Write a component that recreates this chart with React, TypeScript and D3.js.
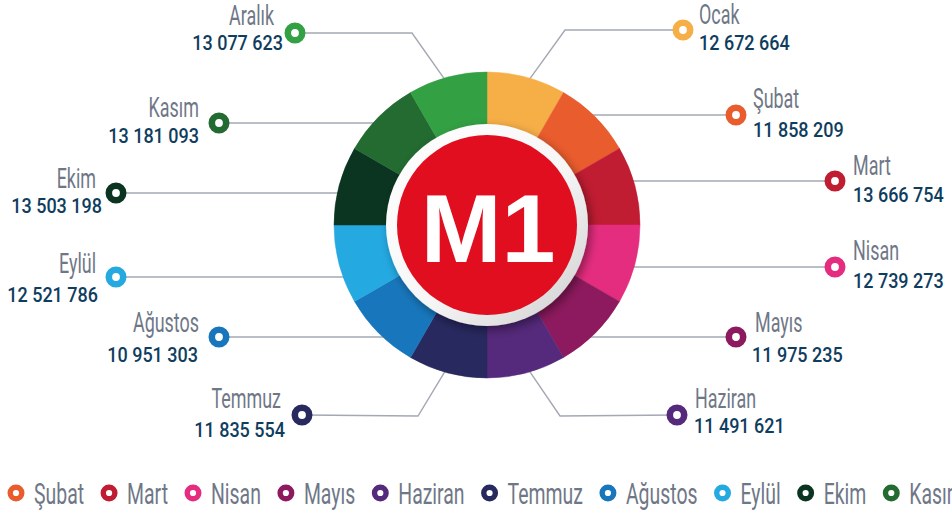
import React, { useEffect, useRef } from "react";
import * as d3 from "d3";

const months = ["Ocak", "Şubat", "Mart", "Nisan", "Mayıs", "Haziran", "Temmuz", "Ağustos", "Eylül", "Ekim", "Kasım", "Aralık"];
const values = [12672664, 11858209, 13666754, 12739273, 11975235, 11491621, 11835554, 10951303, 12521786, 13503198, 13181093, 13077623];
const colors = ["#F6AE47", "#E95C2E", "#C01C32", "#E52D7F", "#8D1A5E", "#55297B", "#28295F", "#1877BC", "#24A9E1", "#0B3520", "#236B31", "#33A044"];
const centerLabel = "M1";

const W = 952;
const H = 517;
const cx = 487;
const cy = 225;
const rOuter = 153;
const rInner = 95;

type Lay = { mx: number; my: number; ex?: number; ey?: number; nx: number; ny: number; vx: number; vy: number; side: "l" | "r" };
// label placement (layout only)
const layout: Lay[] = [
  { mx: 683, my: 30, ex: 565, ey: 30, nx: 699, ny: 24, vx: 699, vy: 50, side: "r" },
  { mx: 736, my: 115, nx: 753, ny: 108, vx: 753, vy: 137, side: "r" },
  { mx: 835, my: 181, nx: 853, ny: 175, vx: 853, vy: 202, side: "r" },
  { mx: 835, my: 267, nx: 853, ny: 260, vx: 853, vy: 288, side: "r" },
  { mx: 736, my: 337, nx: 755, ny: 332, vx: 752, vy: 362, side: "r" },
  { mx: 677, my: 415, ex: 560, ey: 416, nx: 695, ny: 408, vx: 694, vy: 433, side: "r" },
  { mx: 302, my: 415, ex: 418, ey: 416, nx: 281, ny: 408, vx: 285, vy: 437, side: "l" },
  { mx: 219, my: 337, nx: 199, ny: 332, vx: 198, vy: 362, side: "l" },
  { mx: 116, my: 277, nx: 96, ny: 273, vx: 98, vy: 302, side: "l" },
  { mx: 116, my: 193, nx: 96, ny: 188, vx: 102, vy: 213, side: "l" },
  { mx: 219, my: 123, nx: 199, ny: 117, vx: 199, vy: 143, side: "l" },
  { mx: 295, my: 33, ex: 412, ey: 33, nx: 274, ny: 25, vx: 283, vy: 50, side: "l" },
];

const NAME_FONT = "Roboto, 'Liberation Sans', sans-serif";
const NAME_SIZE = 28;
const NAME_SX = 0.64;
const VALUE_SIZE = 20;
const VALUE_SX = 0.9;
const NAME_COLOR = "#6F7787";
const VALUE_COLOR = "#0F3D5E";
const LEG_SIZE = 29;
const LEG_SX = 0.67;

export default function App() {
  const ref = useRef<SVGSVGElement>(null);

  useEffect(() => {
    const svg = d3.select(ref.current as SVGSVGElement);
    svg.selectAll("*").remove();
    const defs = svg.append("defs");
    const f = defs.append("filter").attr("id", "sh").attr("x", "-30%").attr("y", "-30%").attr("width", "160%").attr("height", "160%");
    f.append("feDropShadow").attr("dx", 3).attr("dy", 4).attr("stdDeviation", 5).attr("flood-color", "#000").attr("flood-opacity", 0.4);
    const g1 = defs.append("linearGradient").attr("id", "ring").attr("x1", "0").attr("y1", "0").attr("x2", "1").attr("y2", "1");
    g1.append("stop").attr("offset", "0%").attr("stop-color", "#ffffff");
    g1.append("stop").attr("offset", "55%").attr("stop-color", "#f6f6f6");
    g1.append("stop").attr("offset", "100%").attr("stop-color", "#cdcdcd");

    const data = months.map((m, i) => ({ m, v: values[i], c: colors[i], l: layout[i] }));
    const pie = d3.pie<any>().value(() => 1).sort(null);
    const arcs = pie(data);
    const arc = d3.arc<any>().innerRadius(rInner).outerRadius(rOuter);
    const fmt = (v: number) => d3.format(",")(v).replace(/,/g, " ");

    // leader lines
    const lines = svg.append("g");
    arcs.forEach((a) => {
      const l = a.data.l as Lay;
      const mid = (a.startAngle + a.endAngle) / 2;
      let pts: [number, number][];
      if (l.ex !== undefined && l.ey !== undefined) {
        const r = rOuter - 10;
        pts = [[l.mx, l.my], [l.ex, l.ey], [cx + r * Math.sin(mid), cy - r * Math.cos(mid)]];
      } else {
        pts = [[l.mx, l.my], [cx, l.my]];
      }
      lines.append("path").attr("d", d3.line()(pts) as string).attr("fill", "none").attr("stroke", "#A3A8B3").attr("stroke-width", 1.4);
    });

    // donut
    const dg = svg.append("g").attr("transform", `translate(${cx},${cy})`);
    dg.selectAll("path.seg").data(arcs).join("path").attr("class", "seg")
      .attr("d", arc as any).attr("fill", (d: any) => d.data.c)
      .attr("stroke", (d: any) => d.data.c).attr("stroke-width", 0.5);
    dg.append("circle").attr("r", 101).attr("fill", "url(#ring)").attr("filter", "url(#sh)");
    dg.append("circle").attr("r", 90).attr("fill", "#E10E1F");
    dg.append("text").text(centerLabel).attr("x", 1).attr("y", 37)
      .attr("text-anchor", "middle").attr("font-family", "'Liberation Sans', Arial, sans-serif")
      .attr("font-weight", 700).attr("font-size", 97).attr("fill", "#fff");

    // labels
    const lg = svg.append("g");
    data.forEach((d) => {
      const l = d.l;
      lg.append("circle").attr("cx", l.mx).attr("cy", l.my).attr("r", 7.2)
        .attr("fill", "#fff").attr("stroke", d.c).attr("stroke-width", 6.6);
      const anchor = l.side === "r" ? "start" : "end";
      lg.append("g").attr("transform", `translate(${l.nx},${l.ny}) scale(${NAME_SX},1)`)
        .append("text").text(d.m).attr("text-anchor", anchor)
        .attr("font-family", NAME_FONT).attr("font-size", NAME_SIZE).attr("fill", NAME_COLOR);
      lg.append("g").attr("transform", `translate(${l.vx},${l.vy}) scale(${VALUE_SX},1)`)
        .append("text").text(fmt(d.v)).attr("text-anchor", anchor)
        .attr("font-family", NAME_FONT).attr("font-weight", 500).attr("font-size", VALUE_SIZE).attr("fill", VALUE_COLOR);
    });

    // legend (overflowing row, as in the reference)
    const leg = svg.append("g");
    const items: { x: number; g: any }[] = [];
    let x = 0;
    data.forEach((d) => {
      const ig = leg.append("g");
      ig.append("circle").attr("cx", 0).attr("cy", 493).attr("r", 5.8).attr("fill", "#fff").attr("stroke", d.c).attr("stroke-width", 5.4);
      const t = ig.append("g").attr("transform", `translate(18,504) scale(${LEG_SX},1)`)
        .append("text").text(d.m).attr("font-family", NAME_FONT).attr("font-size", LEG_SIZE).attr("fill", NAME_COLOR);
      const w = (t.node() as SVGTextElement).getComputedTextLength() * LEG_SX;
      items.push({ x, g: ig });
      x += 18 + w + 25;
    });
    const shift = 16 - items[1].x;
    items.forEach((it) => it.g.attr("transform", `translate(${it.x + shift},0)`));
  }, []);

  return <svg ref={ref} width={W} height={H} style={{ position: "absolute", left: 0, top: 0, background: "#fff" }} />;
}
